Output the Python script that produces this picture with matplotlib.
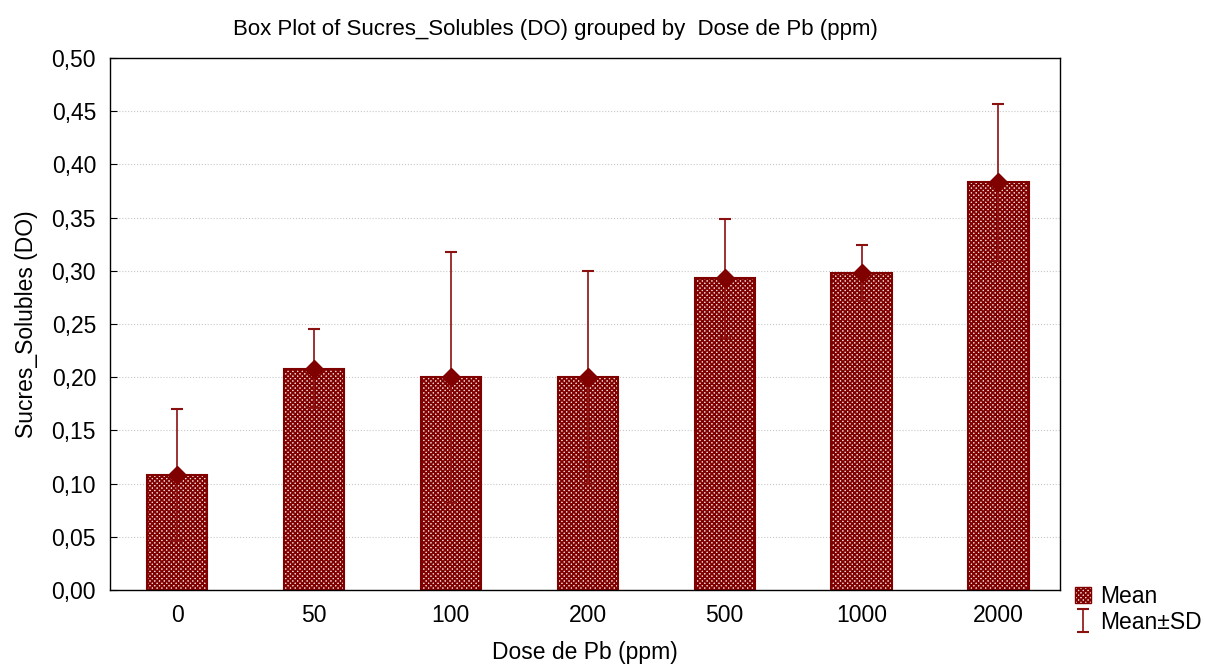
import matplotlib as mpl
mpl.use('Agg')
import matplotlib.pyplot as plt
from matplotlib.patches import Patch
from matplotlib.ticker import FuncFormatter

plt.rcParams['font.family'] = ['Liberation Sans', 'DejaVu Sans']
plt.rcParams['hatch.color'] = '#800000'
plt.rcParams['hatch.linewidth'] = 1.3

doses = ['0', '50', '100', '200', '500', '1000', '2000']
moyennes = [0.108, 0.208, 0.200, 0.200, 0.293, 0.298, 0.383]
ecarts = [0.062, 0.037, 0.118, 0.100, 0.056, 0.026, 0.074]

rouge = '#800000'

fig = plt.figure(figsize=(12.05, 6.64), dpi=100)
ax = fig.add_axes([110 / 1205, 1 - 590 / 664, 950 / 1205, 532 / 664])

x = list(range(len(doses)))
ax.bar(x, moyennes, width=0.44, color='#f0dcdc', edgecolor=rouge, hatch='xxxxxxx',
       linewidth=1.5, zorder=2)
ax.errorbar(x, moyennes, yerr=ecarts, fmt='none', ecolor='#8b1010', elinewidth=1.2,
            capsize=4, capthick=1.5, zorder=3, label='Mean\u00b1SD')
ax.plot(x, moyennes, 'D', color=rouge, markersize=9, zorder=4)

ax.set_xlim(-0.49, 6.45)
ax.set_ylim(0, 0.5)
ax.set_yticks([i * 0.05 for i in range(11)])
ax.yaxis.set_major_formatter(FuncFormatter(lambda v, p: ('%.2f' % v).replace('.', ',')))
ax.set_xticks(x)
ax.set_xticklabels(doses)
ax.tick_params(direction='in', labelsize=16.5, length=5, pad=10)
ax.grid(axis='y', color='#c8c8c8', linestyle=':', linewidth=0.8, zorder=0)
for s in ax.spines.values():
    s.set_linewidth(1.0)

ax.set_xlabel('Dose de Pb (ppm)', fontsize=16.5, labelpad=10)
ax.set_ylabel('Sucres_Solubles (DO)', fontsize=16.5, labelpad=10)
fig.text(555 / 1205, 1 - 30 / 664, 'Box Plot of Sucres_Solubles (DO) grouped by  Dose de Pb (ppm)',
         ha='center', va='center', fontsize=16)

handles = [Patch(facecolor='#f0dcdc', edgecolor=rouge, hatch='xxxxxxx', label='Mean')]
eb = ax.containers[-1]
handles.append(eb)
fig.legend(handles=handles, labels=['Mean', 'Mean\u00b1SD'], loc='upper left',
           bbox_to_anchor=(1070 / 1205, 1 - 580 / 664), frameon=False, fontsize=16.5,
           handlelength=0.7, handleheight=0.7, handletextpad=0.4, labelspacing=0.13,
           borderpad=0.2, borderaxespad=0)

fig.savefig('out.png', dpi=100)
